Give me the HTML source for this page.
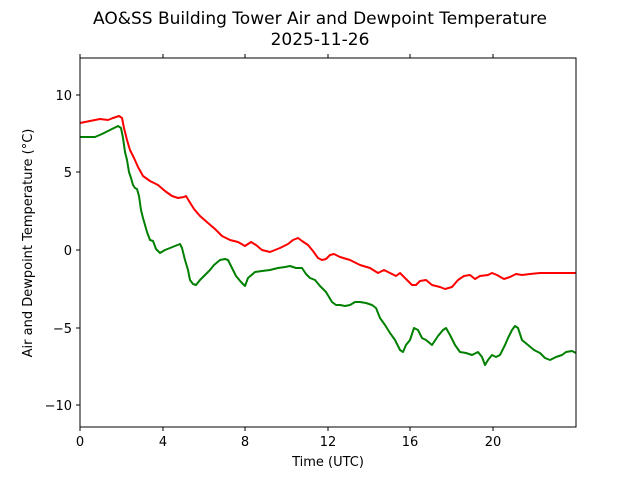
<!DOCTYPE html>
<html><head><style>body{margin:0;background:#fff}</style></head><body>
<svg width="640" height="480" xmlns="http://www.w3.org/2000/svg" font-family="DejaVu Sans, Liberation Sans, sans-serif">
<rect width="640" height="480" fill="#fff"/>
<text x="320" y="24" font-size="17" text-anchor="middle">AO&amp;SS Building Tower Air and Dewpoint Temperature</text>
<text x="320" y="45" font-size="17" text-anchor="middle">2025-11-26</text>
<g stroke="#000" stroke-width="1">
<line x1="80" y1="95" x2="76" y2="95"/><line x1="80" y1="172" x2="76" y2="172"/><line x1="80" y1="250" x2="76" y2="250"/><line x1="80" y1="328" x2="76" y2="328"/><line x1="80" y1="405" x2="76" y2="405"/>
<line x1="80" y1="427" x2="80" y2="431"/><line x1="163" y1="427" x2="163" y2="431"/><line x1="245" y1="427" x2="245" y2="431"/><line x1="328" y1="427" x2="328" y2="431"/><line x1="410" y1="427" x2="410" y2="431"/><line x1="493" y1="427" x2="493" y2="431"/>
<line x1="80" y1="58" x2="80" y2="54"/><line x1="163" y1="58" x2="163" y2="54"/><line x1="245" y1="58" x2="245" y2="54"/><line x1="328" y1="58" x2="328" y2="54"/><line x1="410" y1="58" x2="410" y2="54"/><line x1="493" y1="58" x2="493" y2="54"/>
</g>
<g font-size="13" text-anchor="end">
<text x="72" y="100">10</text><text x="72" y="177">5</text><text x="72" y="255">0</text><text x="72" y="333">−5</text><text x="72" y="410">−10</text>
</g>
<g font-size="13" text-anchor="middle">
<text x="80" y="446">0</text><text x="163" y="446">4</text><text x="245" y="446">8</text><text x="328" y="446">12</text><text x="410" y="446">16</text><text x="493" y="446">20</text>
<text x="328" y="466">Time (UTC)</text>
</g>
<text transform="translate(32,243) rotate(-90)" font-size="13" text-anchor="middle">Air and Dewpoint Temperature (°C)</text>
<polyline fill="none" stroke="#ff0000" stroke-width="2" stroke-linejoin="round" points="80,123 90,121 100,119 108,120 113,118 119,116 122,118 124,128 127,140 130,150 134,158 138,167 143,176 150,181 158,185 165,191 172,196 178,198 184,197 186,196 189,201 194,209 200,216 208,223 215,229 222,236 230,240 238,242 245,246 251,242 256,245 262,250 270,252 280,248 288,244 293,240 298,238 302,241 308,245 313,251 318,258 322,260 326,259 330,255 334,254 340,257 350,260 360,265 370,268 378,273 384,270 390,273 396,276 400,273 406,279 412,285 416,285 420,281 426,280 432,285 440,287 445,289 452,287 458,280 464,276 470,275 475,279 480,276 488,275 492,273 497,275 504,279 510,277 516,274 522,275 530,274 540,273 560,273 576,273"/>
<polyline fill="none" stroke="#008000" stroke-width="2" stroke-linejoin="round" points="80,137 95,137 102,134 110,130 118,126 121,128 123,138 125,152 127,160 129,172 131,178 133,185 135,188 137,189 139,196 141,210 143,218 145,225 147,232 150,240 153,241 156,249 160,253 165,250 170,248 175,246 180,244 182,248 185,260 188,270 190,280 193,284 196,285 200,280 205,275 210,270 214,265 220,260 225,259 228,260 232,268 236,276 241,282 245,286 248,278 255,272 262,271 270,270 278,268 285,267 290,266 296,268 302,268 306,274 310,278 315,280 320,286 326,292 332,302 336,305 340,305 345,306 350,305 355,302 360,302 366,303 372,305 376,308 380,318 385,325 390,333 395,340 400,350 403,352 406,345 410,340 414,328 418,330 422,338 426,340 432,345 438,336 443,330 446,328 450,335 455,345 460,352 466,353 472,355 478,352 482,357 485,365 488,360 492,355 496,357 500,355 505,345 508,338 512,330 515,326 518,328 522,340 528,345 534,350 540,353 545,358 550,360 556,357 562,355 566,352 572,351 576,353"/>
<rect x="80" y="58" width="496" height="369" fill="none" stroke="#000" stroke-width="1"/>
</svg>
</body></html>
